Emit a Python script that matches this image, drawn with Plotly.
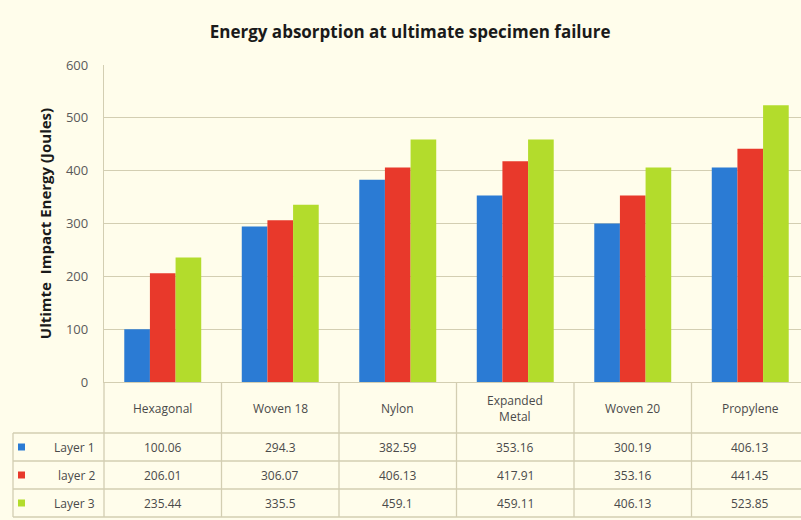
import plotly.graph_objects as go

categories = ["Hexagonal", "Woven 18", "Nylon", "Expanded Metal", "Woven 20", "Propylene"]
header_labels = ["Hexagonal", "Woven 18", "Nylon", "Expanded<br>Metal", "Woven 20", "Propylene"]
series_names = ["Layer 1", "layer 2", "Layer 3"]
layer1 = [100.06, 294.3, 382.59, 353.16, 300.19, 406.13]
layer2 = [206.01, 306.07, 406.13, 417.91, 353.16, 441.45]
layer3 = [235.44, 335.5, 459.1, 459.11, 406.13, 523.85]
colors = ["#2b7bd4", "#e8392b", "#b3dc2c"]
y_ticks = [0, 100, 200, 300, 400, 500, 600]

W, H = 801, 520
BG = "#fffdeb"
LINE = "#d3ceb2"
TXT = "#4a4a4a"
FONT = "Open Sans"

def px(x):
    return x / W

def py(y):
    return 1 - y / H

x_left = 104
plot_top, plot_bottom = 65, 382
col_w = 117.5
n = len(categories)
x_end = -0.5 + (W - x_left) / col_w

fig = go.Figure()
for name, vals, c in zip(series_names, [layer1, layer2, layer3], colors):
    fig.add_trace(go.Bar(x=list(range(n)), y=vals, name=name, marker_color=c,
                         marker_line_width=0, showlegend=False))

shapes = []
annotations = []

row_lines = [433, 461, 489, 517]
for yl in row_lines:
    shapes.append(dict(type="line", xref="paper", yref="paper", x0=px(13), x1=1,
                       y0=py(yl), y1=py(yl), line=dict(color=LINE, width=1.3)))
shapes.append(dict(type="line", xref="paper", yref="paper", x0=px(13), x1=px(13),
                   y0=py(433), y1=py(517), line=dict(color=LINE, width=1.3)))
shapes.append(dict(type="line", xref="paper", yref="paper", x0=px(x_left), x1=px(x_left),
                   y0=py(plot_bottom), y1=py(517), line=dict(color=LINE, width=1.3)))
for i in range(1, n):
    shapes.append(dict(type="line", xref="x", yref="paper", x0=i - 0.5, x1=i - 0.5,
                       y0=py(plot_bottom), y1=py(517), line=dict(color=LINE, width=1.3)))

for i, lab in enumerate(header_labels):
    annotations.append(dict(x=i, y=py(408), xref="x", yref="paper", text=lab,
                            showarrow=False, xanchor="center", yanchor="middle",
                            font=dict(size=12, color=TXT, family=FONT), align="center"))
row_centers = [447, 475, 503]
for r, vals in enumerate([layer1, layer2, layer3]):
    for i, v in enumerate(vals):
        annotations.append(dict(x=i, y=py(row_centers[r]), xref="x", yref="paper",
                                text=f"{v:g}", showarrow=False, xanchor="center", yanchor="middle",
                                font=dict(size=12, color=TXT, family=FONT)))
    shapes.append(dict(type="rect", xref="paper", yref="paper",
                       x0=px(18), x1=px(25), y0=py(row_centers[r] - 3.5), y1=py(row_centers[r] + 3.5),
                       fillcolor=colors[r], line=dict(width=0)))
    annotations.append(dict(x=px(97), y=py(row_centers[r]), xref="paper", yref="paper",
                            text=series_names[r], showarrow=False, xanchor="right", yanchor="middle",
                            font=dict(size=12, color=TXT, family=FONT)))

fig.update_layout(
    width=W, height=H,
    margin=dict(l=0, r=0, t=0, b=0, autoexpand=False),
    paper_bgcolor=BG, plot_bgcolor=BG,
    barmode="group", bargap=0.345, bargroupgap=0,
    title=dict(text="<b>Energy absorption at ultimate specimen failure</b>",
               x=0.512, xanchor="center", y=py(32), yanchor="middle",
               font=dict(size=17, color="#1a1a1a", family=FONT)),
    xaxis=dict(domain=[px(x_left), 1], range=[-0.5, x_end], showticklabels=False,
               showgrid=False, zeroline=False, showline=True, linecolor=LINE, ticks=""),
    yaxis=dict(domain=[py(plot_bottom), py(plot_top)], range=[0, 600], tickvals=y_ticks,
               showgrid=True, gridcolor=LINE, gridwidth=1.3, zeroline=False,
               showline=True, linecolor=LINE, linewidth=1.3, ticks="outside", ticklen=12, tickcolor=BG,
               tickfont=dict(size=13, color="#5a5a5a", family=FONT),
               title=dict(text="<b>Ultimte  Impact Energy (Joules)</b>", standoff=10,
                          font=dict(size=15, color="#1a1a1a", family=FONT))),
    shapes=shapes,
    annotations=annotations,
)

fig.write_html("out.html", config={"displayModeBar": False},
               post_script="document.body.style.margin='0';document.body.style.overflow='hidden';")
